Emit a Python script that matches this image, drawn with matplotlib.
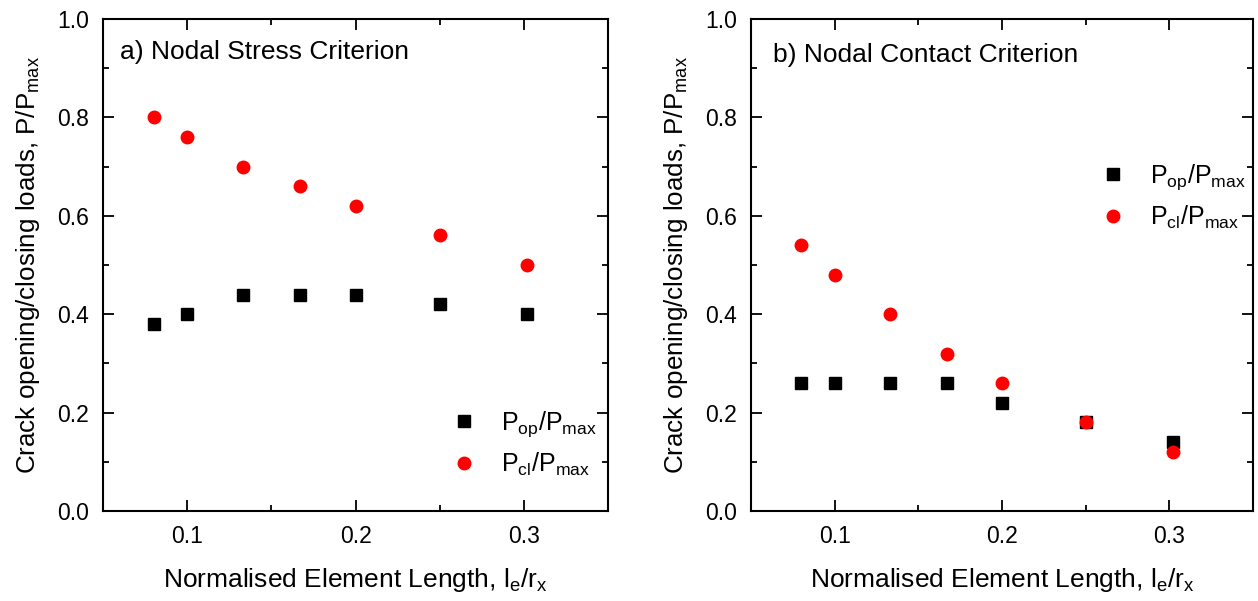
import matplotlib
matplotlib.use("Agg")
import matplotlib.pyplot as plt
from matplotlib.ticker import MultipleLocator

plt.rcParams['font.family'] = ['Liberation Sans', 'DejaVu Sans']
plt.rcParams['mathtext.fontset'] = 'custom'
plt.rcParams['mathtext.rm'] = 'Liberation Sans'
plt.rcParams['mathtext.it'] = 'Liberation Sans'

x_len = [0.08, 0.1, 0.133, 0.167, 0.2, 0.25, 0.302]

a_pop = [0.38, 0.40, 0.44, 0.44, 0.44, 0.42, 0.40]
a_pcl = [0.80, 0.76, 0.70, 0.66, 0.62, 0.56, 0.50]

b_pop = [0.26, 0.26, 0.26, 0.26, 0.22, 0.18, 0.14]
b_pcl = [0.54, 0.48, 0.40, 0.32, 0.26, 0.18, 0.12]

titles = ['a) Nodal Stress Criterion', 'b) Nodal Contact Criterion']
xlabel = r'Normalised Element Length, $\mathregular{l_e/r_x}$'
ylabel = r'Crack opening/closing loads, $\mathregular{P/P_{max}}$'
lab_op = r'$\mathregular{P_{op}/P_{max}}$'
lab_cl = r'$\mathregular{P_{cl}/P_{max}}$'

fig = plt.figure(figsize=(12.58, 6.01), dpi=100)
ax1 = fig.add_axes([103/1258, 90/601, 505/1258, 492/601])
ax2 = fig.add_axes([751/1258, 90/601, 502/1258, 492/601])

panels = [(ax1, a_pop, a_pcl, titles[0], (0.034, 0.933), (0.689, 0.137)),
          (ax2, b_pop, b_pcl, titles[1], (0.044, 0.927), (0.695, 0.639))]

for ax, pop, pcl, title, tpos, legloc in panels:
    ax.plot(x_len, pop, linestyle='none', marker='s', color='black', ms=8, label=lab_op)
    ax.plot(x_len, pcl, linestyle='none', marker='o', color='#ff0000', ms=9, label=lab_cl)
    ax.set_xlim(0.05, 0.35)
    ax.set_ylim(0.0, 1.0)
    ax.xaxis.set_minor_locator(MultipleLocator(0.05))
    ax.yaxis.set_major_locator(MultipleLocator(0.2))
    ax.yaxis.set_minor_locator(MultipleLocator(0.1))
    ax.set_xticks([0.1, 0.2, 0.3])
    ax.set_xticklabels(['0.1', '0.2', '0.3'])
    ax.tick_params(which='both', direction='in', top=True, right=True, width=1.3)
    ax.tick_params(which='major', length=8, labelsize=16.5, pad=10)
    ax.tick_params(which='minor', length=4.5)
    for s in ax.spines.values():
        s.set_linewidth(1.5)
    ax.set_xlabel(xlabel, fontsize=19, labelpad=13)
    ax.set_ylabel(ylabel, fontsize=18.7, labelpad=11)
    ax.text(tpos[0], tpos[1], title, transform=ax.transAxes, fontsize=19,
            ha='left', va='center')
    ax.legend(loc='center left', bbox_to_anchor=legloc, frameon=False,
              fontsize=18, handletextpad=0.95, labelspacing=0.45,
              handlelength=1.05, borderpad=0, borderaxespad=0, markerscale=1.0)

fig.savefig('out.png', dpi=100)
